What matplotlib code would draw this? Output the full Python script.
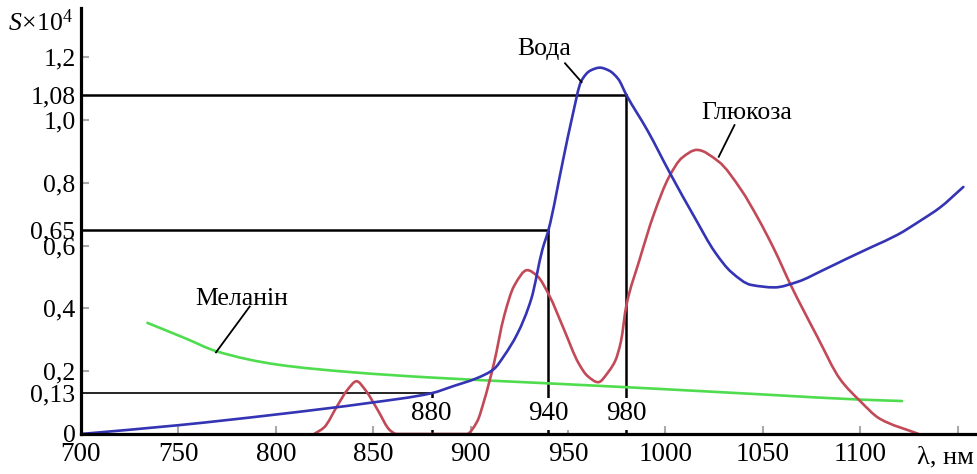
import numpy as np
import matplotlib.pyplot as plt
from matplotlib.path import Path
from matplotlib.patches import PathPatch

plt.rcParams['font.family'] = ['Liberation Serif', 'DejaVu Serif']
plt.rcParams['mathtext.fontset'] = 'custom'
plt.rcParams['mathtext.rm'] = 'Liberation Serif'
plt.rcParams['mathtext.it'] = 'Liberation Serif:italic'

# Вода
water_lam = [700, 750, 800, 848, 880, 891.4, 903.3, 912, 917.2, 924, 931.2, 936.9, 940,
             947.5, 952.2, 956.9, 961.6, 966.4, 971, 975.8, 980, 991, 1002.3,
             1015.3, 1025.4, 1034, 1044, 1056, 1068, 1081, 1093, 1106.4, 1119, 1131.8,
             1140.7, 1153]
water_s = [0, 0.028, 0.062, 0.099, 0.13, 0.153, 0.178, 0.207, 0.249, 0.319, 0.431, 0.588, 0.65,
           0.873, 1.01, 1.125, 1.158, 1.167, 1.158, 1.131, 1.08, 0.965, 0.832,
           0.687, 0.58, 0.515, 0.475, 0.467, 0.485, 0.522, 0.558, 0.597, 0.634, 0.683,
           0.72, 0.787]

# Глюкоза
gluc_lam = [819.7, 824.8, 831.6, 836.7, 841.5, 846, 852, 858.8, 862, 898, 903.4, 906.9,
            912, 917.2, 922.4, 929.1, 934.3, 940.5, 947.5, 955.5, 960, 965.5, 971,
            974.4, 977.2, 980, 986.5, 994.1, 1002, 1008.6, 1016.2, 1027.3, 1039,
            1047.5, 1055.9, 1064.5, 1078, 1089.8, 1100, 1110, 1130]
gluc_s = [0, 0.021, 0.09, 0.14, 0.168, 0.14, 0.08, 0.011, 0, 0, 0.04, 0.105,
          0.225, 0.375, 0.472, 0.522, 0.503, 0.44, 0.34, 0.225, 0.185, 0.165, 0.2,
          0.235, 0.295, 0.41, 0.55, 0.7, 0.82, 0.88, 0.905, 0.868, 0.777,
          0.688, 0.588, 0.473, 0.31, 0.174, 0.105, 0.049, 0]

# Меланін
mel_lam = [734.1, 753.5, 769.8, 800.9, 838.6, 879.3, 934.3, 986.5, 1055.8, 1098.5, 1121.5]
mel_s = [0.354, 0.305, 0.263, 0.221, 0.197, 0.18, 0.163, 0.147, 0.124, 0.11, 0.105]

mark_lam = [880, 940, 980]
mark_s = [0.13, 0.65, 1.08]

x_ticks = [700, 750, 800, 850, 900, 950, 1000, 1050, 1100, 1150]
x_labels = ['700', '750', '800', '850', '900', '950', '1000', '1050', '1100', '']
y_ticks = [0, 0.13, 0.2, 0.4, 0.6, 0.65, 0.8, 1.0, 1.08, 1.2]
y_labels = ['0', '0,13', '0,2', '0,4', '0,6', '0,65', '0,8', '1,0', '1,08', '1,2']


def smooth_path(x, y):
    """гладка крива через точки (монотонні кубічні сегменти Безьє)"""
    x = np.asarray(x, float)
    y = np.asarray(y, float)
    h = np.diff(x)
    d = np.diff(y) / h
    m = np.zeros_like(y)
    m[0], m[-1] = d[0], d[-1]
    for k in range(1, len(x) - 1):
        if d[k - 1] * d[k] > 0:
            w1 = 2 * h[k] + h[k - 1]
            w2 = h[k] + 2 * h[k - 1]
            m[k] = (w1 + w2) / (w1 / d[k - 1] + w2 / d[k])
    verts = [(x[0], y[0])]
    codes = [Path.MOVETO]
    for k in range(len(x) - 1):
        verts += [(x[k] + h[k] / 3, y[k] + m[k] * h[k] / 3),
                  (x[k + 1] - h[k] / 3, y[k + 1] - m[k + 1] * h[k] / 3),
                  (x[k + 1], y[k + 1])]
        codes += [Path.CURVE4] * 3
    return Path(verts, codes)


fig = plt.figure(figsize=(9.77, 4.74), dpi=100)
ax = fig.add_axes([0.0829, 0.0844, 0.9171, 0.8987])
ax.set_xlim(700, 1160)
ax.set_ylim(0, 1.357)

for s in ['top', 'right']:
    ax.spines[s].set_visible(False)
for s in ['left', 'bottom']:
    ax.spines[s].set_linewidth(2.3)
    ax.spines[s].set_zorder(6)

# опорні лінії
for lam, val in zip(mark_lam, mark_s):
    lw = 1.2 if val < 0.2 else 1.8
    ax.plot([700, lam], [val, val], color='black', lw=lw, zorder=2)
    ax.plot([lam, lam], [0, val], color='black', lw=1.8, zorder=2)
    ax.text(lam, 0.064, str(lam), ha='center', va='center', fontsize=19.5, zorder=3,
            bbox=dict(facecolor='white', edgecolor='none', pad=2.5))

for lam, val, col, z in [(mel_lam, mel_s, '#4fdc4f', 4),
                         (gluc_lam, gluc_s, '#c24a58', 4),
                         (water_lam, water_s, '#3434b4', 5)]:
    ax.add_patch(PathPatch(smooth_path(lam, val), facecolor='none', edgecolor=col,
                           lw=1.9, zorder=z, capstyle='round', joinstyle='round'))

ax.set_xticks(x_ticks)
ax.set_xticklabels(x_labels)
ax.set_yticks(y_ticks)
ax.set_yticklabels(y_labels)
ax.tick_params(axis='both', direction='in', length=6, width=1.5, color='#aaaaaa')
ax.tick_params(axis='x', pad=6, labelsize=19.5)
ax.tick_params(axis='y', pad=4, labelsize=18.5)
for i, t in enumerate(ax.yaxis.get_major_ticks()):
    if y_ticks[i] in (0, 0.13, 0.65, 1.08):
        t.tick1line.set_visible(False)
ax.xaxis.get_major_ticks()[0].tick1line.set_visible(False)

# підписи кривих
ax.text(938, 1.228, 'Вода', ha='center', va='center', fontsize=18.5)
ax.plot([948.5, 957], [1.181, 1.121], color='black', lw=1.3, zorder=6)
ax.text(1041.6, 1.022, 'Глюкоза', ha='center', va='center', fontsize=18.5)
ax.plot([1035.5, 1027.4], [0.984, 0.883], color='black', lw=1.3, zorder=6)
ax.text(782.5, 0.431, 'Меланін', ha='center', va='center', fontsize=18.5)
ax.plot([786.6, 769.3], [0.406, 0.26], color='black', lw=1.3, zorder=6)

fig.text(0.075, 0.953, r'$S\!\times\!10^4$', ha='right', va='center', fontsize=18.5)
fig.text(0.968, 0.034, 'λ, нм', ha='center', va='center', fontsize=19)

fig.savefig('out.png', dpi=100)
